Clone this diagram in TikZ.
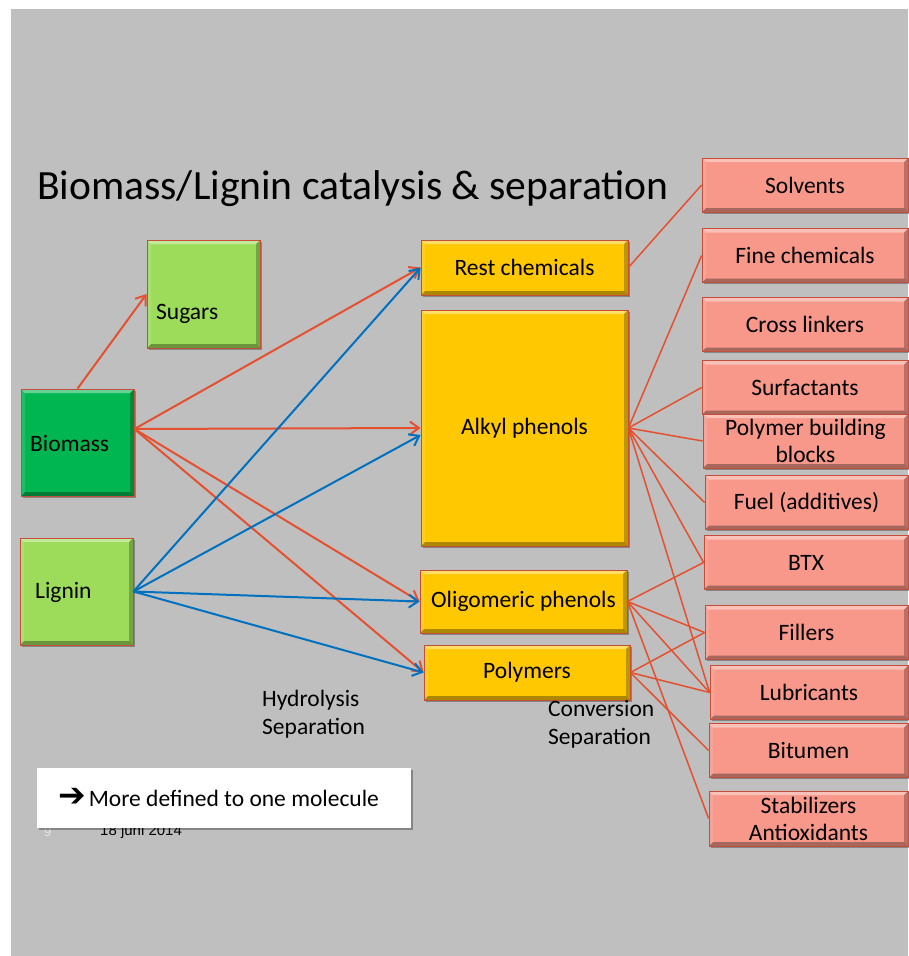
\documentclass[tikz,border=0pt]{standalone}
\usepackage{fontspec}
\setmainfont{Carlito}
\newfontfamily\datefont{Liberation Sans}
\newfontfamily\symfont{DejaVu Sans}
\usetikzlibrary{arrows.meta,shadows}
\definecolor{slide}{RGB}{191,191,191}
\definecolor{salmon}{RGB}{247,152,138}
\definecolor{boxrim}{RGB}{196,78,58}
\definecolor{gold}{RGB}{255,200,0}
\definecolor{leaf}{RGB}{157,220,90}
\definecolor{grass}{RGB}{0,182,80}
\definecolor{flowred}{RGB}{228,80,48}
\definecolor{flowblue}{RGB}{0,112,192}
\begin{document}
\begin{tikzpicture}[x=1pt,y=-1pt,
  bevel/.style={path picture={
    \coordinate (bnw) at (path picture bounding box.north west);
    \coordinate (bne) at (path picture bounding box.north east);
    \coordinate (bsw) at (path picture bounding box.south west);
    \coordinate (bse) at (path picture bounding box.south east);
    \fill[white,opacity=0.4] (bnw) -- (bne) -- ([shift={(-4pt,-4pt)}]bne) -- ([shift={(4pt,-4pt)}]bnw) -- cycle;
    \fill[black,opacity=0.32] (bsw) -- (bse) -- ([shift={(-4pt,4pt)}]bse) -- ([shift={(4pt,4pt)}]bsw) -- cycle;
    \fill[black,opacity=0.25] (bne) -- (bse) -- ([shift={(-4pt,4pt)}]bse) -- ([shift={(-4pt,-4pt)}]bne) -- cycle;
    \fill[white,opacity=0.12] (bnw) -- (bsw) -- ([shift={(4pt,4pt)}]bsw) -- ([shift={(4pt,-4pt)}]bnw) -- cycle;
  }},
  box/.style={draw=boxrim, line width=0.8pt, inner sep=0pt, bevel,
    drop shadow={shadow xshift=1.5pt, shadow yshift=-1.5pt, opacity=0.3, fill=black},
    font=\fontsize{23.5}{27}\selectfont, align=center},
  leafbox/.style={box, fill=leaf},
  grassbox/.style={box, fill=grass},
  goldbox/.style={box, fill=gold, minimum width=207pt},
  pinkbox/.style={box, fill=salmon, minimum height=54pt},
  lbl/.style={inner sep=0pt, font=\fontsize{23.5}{28}\selectfont, align=left},
  redarrow/.style={draw=flowred, line width=2pt, -{Straight Barb[length=9pt,width=13pt]}},
  bluearrow/.style={draw=flowblue, line width=2pt, -{Straight Barb[length=9pt,width=13pt]}},
  redlink/.style={draw=flowred, line width=1.5pt}
]
% page and slide background
\fill[white] (0,0) rectangle (908,956);
\fill[slide] (11,9) rectangle (908,956);
\useasboundingbox (0,0) rectangle (908,956);

% title
\node[inner sep=0pt, anchor=base west, font=\fontsize{41.6}{48}\selectfont] (title) at (37,199)
  {Biomass/Lignin catalysis \& separation};

% feedstock boxes
\node[leafbox, minimum width=113pt, minimum height=108pt] (sugars) at (203.5,294) {};
\node[grassbox, minimum width=113pt, minimum height=107pt] (biomass) at (77.5,442.5) {};
\node[leafbox, minimum width=113pt, minimum height=107pt] (lignin) at (76.5,591.5) {};
\node[lbl, anchor=west] (sugarstxt) at (156,314) {Sugars};
\node[lbl, anchor=west] (biomasstxt) at (30,443) {Biomass};
\node[lbl, anchor=west] (lignintxt) at (35,592) {Lignin};

% intermediate product boxes
\node[goldbox, minimum height=55pt] (rest) at (524.5,267.5) {Rest chemicals};
\node[goldbox, minimum height=236pt] (alkyl) at (524.5,428) {Alkyl phenols};
\node[goldbox, minimum height=63pt] (olig) at (523.5,601.5) {Oligomeric phenols};
\node[goldbox, minimum width=206pt, minimum height=55pt] (poly) at (527,672.5) {Polymers};

% application boxes
\node[pinkbox, minimum width=206pt] (solv) at (805,185) {Solvents};
\node[pinkbox, minimum width=206pt] (fine) at (805,255.5) {Fine chemicals};
\node[pinkbox, minimum width=206pt] (cross) at (805,324.5) {Cross linkers};
\node[pinkbox, minimum width=206pt] (surf) at (805,387.5) {Surfactants};
\node[pinkbox, minimum width=205pt] (pbb) at (805.5,441) {Polymer building\\blocks};
\node[pinkbox, minimum width=203pt] (fuel) at (806.5,502.5) {Fuel (additives)};
\node[pinkbox, minimum width=204pt] (btx) at (806,562.5) {BTX};
\node[pinkbox, minimum width=203pt] (fillers) at (806.5,632.5) {Fillers};
\node[pinkbox, minimum width=198pt] (lub) at (809,692.5) {Lubricants};
\node[pinkbox, minimum width=199pt] (bit) at (808.5,750.5) {Bitumen};
\node[pinkbox, minimum width=199pt, minimum height=55pt] (stab) at (808.5,818.5) {Stabilizers\\Antioxidants};

% process step labels
\node[lbl, anchor=west] (hydro) at (262,714) {Hydrolysis\\Separation};
\node[lbl, anchor=west] (conv) at (548,724) {Conversion\\Separation};

% source points of the fans
\coordinate (bsrc) at ([yshift=13.5pt]biomass.east);
\coordinate (lsrc) at (lignin.east);

% biomass routes
\draw[redarrow] (biomass.north) -- (sugars.west);
\draw[redarrow] (bsrc) -- (rest.west);
\draw[redarrow] (bsrc) -- (alkyl.west);
\draw[redarrow] (bsrc) -- (olig.west);
\draw[redarrow] (bsrc) -- (poly.west);

% lignin routes
\draw[bluearrow] (lsrc) -- (rest.west);
\draw[bluearrow] (lsrc) -- ([yshift=-7pt]alkyl.west);
\draw[bluearrow] (lsrc) -- (olig.west);
\draw[bluearrow] (lsrc) -- (poly.west);

% product to application links
\draw[redlink] (rest.east) -- (solv.west);
\foreach \t in {fine,surf,pbb,fuel,btx,lub}
  \draw[redlink] (alkyl.east) -- (\t.west);
\foreach \t in {btx,fillers,lub,stab}
  \draw[redlink] (olig.east) -- (\t.west);
\foreach \t in {fillers,lub,bit}
  \draw[redlink] (poly.east) -- (\t.west);

% footer
\node[inner sep=0pt, anchor=west, font=\datefont\fontsize{13}{15}\selectfont, text=gray!20] (pagenum) at (44,832) {9};
\node[inner sep=0pt, anchor=west, font=\datefont\fontsize{15}{17}\selectfont] (date) at (100,832) {18 juni 2014};

% note box
\node[fill=white, inner sep=0pt, minimum width=374pt, minimum height=60pt,
  drop shadow={shadow xshift=1.5pt, shadow yshift=-2pt, opacity=0.3, fill=black}] (note) at (224,798) {};
\node[inner sep=0pt, anchor=west, font=\fontsize{23.5}{27}\selectfont] (notetxt) at (58,797)
  {{\symfont\bfseries\fontsize{33}{33}\selectfont ➔}\hspace{3pt}More defined to one molecule};
\end{tikzpicture}
\end{document}
